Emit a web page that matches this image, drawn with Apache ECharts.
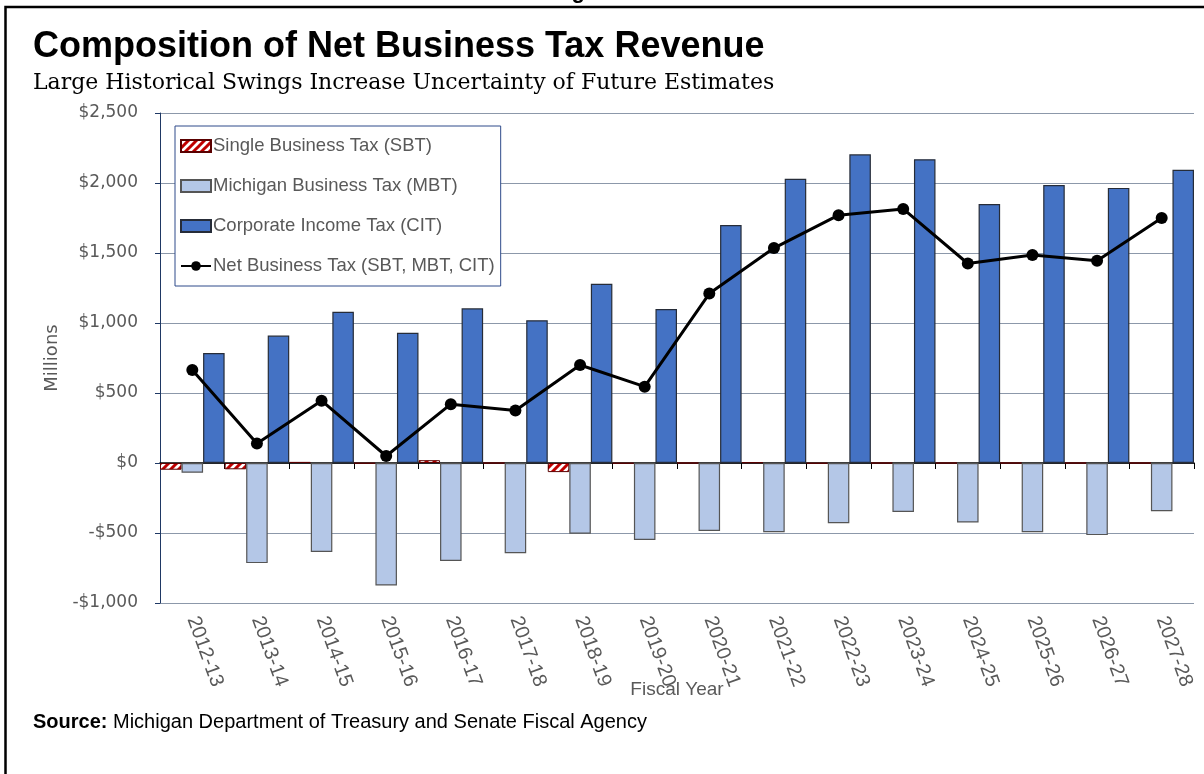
<!DOCTYPE html>
<html>
<head>
<meta charset="utf-8">
<style>
  html, body { margin: 0; padding: 0; background: #ffffff; }
  #chart { width: 1204px; height: 774px; }
</style>
<script src="https://cdn.jsdelivr.net/npm/echarts@6/dist/echarts.min.js"></script>
</head>
<body>
<div id="chart"></div>
<script>
// Fiscal years on the category axis
const fiscalYears = ['2012-13', '2013-14', '2014-15', '2015-16', '2016-17', '2017-18', '2018-19', '2019-20',
  '2020-21', '2021-22', '2022-23', '2023-24', '2024-25', '2025-26', '2026-27', '2027-28'];

// Revenue by tax, $ millions
const singleBusinessTax = [-48, -45, 8, -3, 20, 0, -65, -3, 0, 5, -3, 0, 0, 0, 0, 0];
const michiganBusinessTax = [-70, -715, -635, -875, -700, -645, -505, -550, -485, -495, -430, -350, -425, -495, -515, -345];
const corporateIncomeTax = [785, 910, 1080, 930, 1105, 1020, 1280, 1100, 1700, 2030, 2205, 2170, 1850, 1985, 1965, 2095];
const netBusinessTax = [665, 140, 445, 50, 420, 375, 700, 545, 1210, 1535, 1770, 1815, 1425, 1485, 1445, 1750];

// Value axis range
const yMin = -1000;
const yMax = 2500;
const yStep = 500;

const seriesNames = [
  'Single Business Tax (SBT)',
  'Michigan Business Tax (MBT)',
  'Corporate Income Tax (CIT)',
  'Net Business Tax (SBT, MBT, CIT)'
];

// Red diagonal hatch fill for the SBT bars
function makeHatch() {
  const c = document.createElement('canvas');
  c.width = 8; c.height = 8;
  const ctx = c.getContext('2d');
  ctx.fillStyle = '#ffffff';
  ctx.fillRect(0, 0, 8, 8);
  ctx.strokeStyle = '#c00000';
  ctx.lineWidth = 3;
  ctx.beginPath();
  ctx.moveTo(-4, 4); ctx.lineTo(4, -4);
  ctx.moveTo(0, 8); ctx.lineTo(8, 0);
  ctx.moveTo(4, 12); ctx.lineTo(12, 4);
  ctx.stroke();
  return c;
}
const hatch = { image: makeHatch(), repeat: 'repeat' };

function money(v) {
  const s = '$' + Math.abs(v).toLocaleString('en-US');
  return v < 0 ? '-' + s : s;
}

const chart = echarts.init(document.getElementById('chart'), null, { renderer: 'canvas' });

chart.setOption({
  animation: false,
  backgroundColor: '#ffffff',
  grid: { left: 160, right: 10, top: 113, bottom: 171, containLabel: false },
  legend: {
    orient: 'vertical',
    left: 175,
    top: 126,
    padding: [10, 6, 10, 5],
    itemGap: 20,
    itemWidth: 30,
    itemHeight: 12,
    selectedMode: false,
    backgroundColor: '#ffffff',
    borderColor: '#2f4a8a',
    borderWidth: 1,
    textStyle: { color: '#595959', fontFamily: 'Liberation Sans', fontSize: 18.5, lineHeight: 20, padding: [0, 0, 0, -3] },
    data: [
      { name: seriesNames[0], icon: 'rect' },
      { name: seriesNames[1], icon: 'rect' },
      { name: seriesNames[2], icon: 'rect' },
      { name: seriesNames[3] }
    ]
  },
  xAxis: [
    {
      type: 'category',
      data: fiscalYears,
      position: 'bottom',
      axisLine: { show: false, onZero: false },
      axisTick: { show: false },
      splitLine: { show: false },
      axisLabel: {
        interval: 0,
        rotate: -70,
        margin: 14,
        color: '#595959',
        fontFamily: 'Liberation Sans',
        fontSize: 20
      }
    },
    {
      // zero baseline with boundary ticks
      type: 'category',
      data: fiscalYears,
      position: 'bottom',
      axisLine: { show: true, onZero: true, lineStyle: { color: '#000000', width: 1.5 } },
      axisTick: { show: true, length: 6, lineStyle: { color: '#000000', width: 1 } },
      axisLabel: { show: false },
      splitLine: { show: false }
    }
  ],
  yAxis: {
    type: 'value',
    min: yMin,
    max: yMax,
    interval: yStep,
    axisLine: { show: true, lineStyle: { color: '#1f3864', width: 1 } },
    axisTick: { show: true, length: 5, lineStyle: { color: '#1f3864' } },
    splitLine: { show: true, lineStyle: { color: '#8c98aa', width: 1.2 } },
    axisLabel: {
      margin: 22,
      color: '#595959',
      fontFamily: 'DejaVu Sans',
      fontSize: 17,
      formatter: money
    }
  },
  series: [
    {
      name: seriesNames[0],
      type: 'bar',
      data: singleBusinessTax,
      barGap: '0%',
      barCategoryGap: '0%',
      itemStyle: { color: hatch, borderColor: '#5a0000', borderWidth: 1 }
    },
    {
      name: seriesNames[1],
      type: 'bar',
      data: michiganBusinessTax,
      barGap: '0%',
      barCategoryGap: '0%',
      itemStyle: { color: '#b4c7e7', borderColor: '#555555', borderWidth: 1.2 }
    },
    {
      name: seriesNames[2],
      type: 'bar',
      data: corporateIncomeTax,
      barGap: '0%',
      barCategoryGap: '0%',
      itemStyle: { color: '#4472c4', borderColor: '#262c38', borderWidth: 1.2 }
    },
    {
      name: seriesNames[3],
      type: 'line',
      data: netBusinessTax,
      z: 5,
      symbol: 'circle',
      symbolSize: 12,
      lineStyle: { color: '#000000', width: 3 },
      itemStyle: { color: '#000000' }
    }
  ],
  graphic: [
    {
      type: 'rect',
      silent: true,
      shape: { x: 5.5, y: 7, width: 1400, height: 900 },
      style: { fill: null, stroke: '#000000', lineWidth: 2.5 }
    },
    {
      type: 'text',
      x: 552, y: -8,
      style: { text: 'Figure', fill: '#000000', font: 'bold 22px "Liberation Sans"', verticalAlign: 'middle' }
    },
    {
      type: 'text',
      x: 33, y: 47,
      style: {
        text: 'Composition of Net Business Tax Revenue',
        fill: '#000000',
        font: 'bold 36px "Liberation Sans"',
        verticalAlign: 'middle'
      }
    },
    {
      type: 'text',
      x: 33, y: 83,
      style: {
        text: 'Large Historical Swings Increase Uncertainty of Future Estimates',
        fill: '#000000',
        font: '22px "DejaVu Serif"',
        verticalAlign: 'middle'
      }
    },
    {
      type: 'text',
      x: 52, y: 358,
      rotation: Math.PI / 2,
      style: {
        text: 'Millions',
        fill: '#595959',
        font: '18px "DejaVu Sans"',
        align: 'center',
        verticalAlign: 'middle'
      }
    },
    {
      type: 'text',
      x: 677, y: 690,
      style: {
        text: 'Fiscal Year',
        fill: '#595959',
        font: '19px "Liberation Sans"',
        align: 'center',
        verticalAlign: 'middle'
      }
    },
    {
      type: 'text',
      x: 33, y: 722,
      style: {
        text: '{b|Source:} Michigan Department of Treasury and Senate Fiscal Agency',
        fill: '#000000',
        font: '20px "Liberation Sans"',
        verticalAlign: 'middle',
        rich: {
          b: { font: 'bold 20px "Liberation Sans"', fill: '#000000' }
        }
      }
    }
  ]
});
</script>
</body>
</html>
